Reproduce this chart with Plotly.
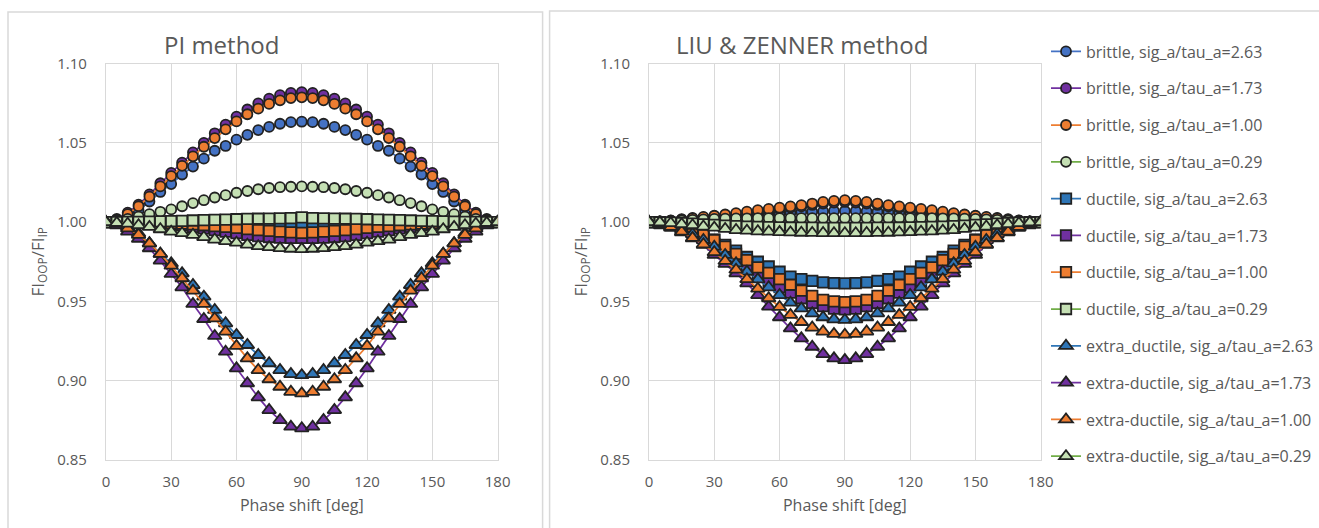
import plotly.graph_objects as go

phase = [0, 5, 10, 15, 20, 25, 30, 35, 40, 45, 50, 55, 60, 65, 70, 75, 80, 85, 90,
         95, 100, 105, 110, 115, 120, 125, 130, 135, 140, 145, 150, 155, 160, 165, 170, 175, 180]

series_names = [
    "brittle, sig_a/tau_a=2.63", "brittle, sig_a/tau_a=1.73", "brittle, sig_a/tau_a=1.00", "brittle, sig_a/tau_a=0.29",
    "ductile, sig_a/tau_a=2.63", "ductile, sig_a/tau_a=1.73", "ductile, sig_a/tau_a=1.00", "ductile, sig_a/tau_a=0.29",
    "extra_ductile, sig_a/tau_a=2.63", "extra-ductile, sig_a/tau_a=1.73", "extra-ductile, sig_a/tau_a=1.00",
    "extra-ductile, sig_a/tau_a=0.29",
]

# ---------------- PI method ----------------
pi_brittle_263 = [1.000,1.001,1.0035,1.0075,1.013,1.019,1.024,1.030,1.035,1.040,1.045,1.048,1.052,1.055,1.058,1.060,1.062,1.063,1.0633,
                  1.063,1.062,1.060,1.058,1.055,1.052,1.048,1.045,1.040,1.035,1.030,1.024,1.019,1.013,1.0075,1.0035,1.001,1.000]
pi_brittle_173 = [1.000,1.002,1.006,1.011,1.0175,1.0245,1.031,1.0375,1.044,1.050,1.056,1.0615,1.0665,1.071,1.0748,1.0778,1.080,1.0815,1.082,
                  1.0815,1.080,1.0778,1.0748,1.071,1.0665,1.0615,1.056,1.050,1.044,1.0375,1.031,1.0245,1.0175,1.011,1.006,1.002,1.000]
pi_brittle_100 = [1.000,1.0015,1.005,1.010,1.016,1.0225,1.029,1.0355,1.0415,1.0475,1.053,1.0585,1.0635,1.068,1.0715,1.0745,1.0768,1.0782,1.0787,
                  1.0782,1.0768,1.0745,1.0715,1.068,1.0635,1.0585,1.053,1.0475,1.0415,1.0355,1.029,1.0225,1.016,1.010,1.005,1.0015,1.000]
pi_brittle_029 = [1.000,1.001,1.002,1.0035,1.005,1.0065,1.008,1.010,1.012,1.0138,1.0155,1.017,1.0185,1.0196,1.0207,1.0215,1.022,1.0223,1.0225,
                  1.0223,1.022,1.0215,1.0207,1.0196,1.0185,1.017,1.0155,1.0138,1.012,1.010,1.008,1.0065,1.005,1.0035,1.002,1.001,1.000]
pi_ductile_263 = [1.000,1.000,1.000,0.9999,0.9998,0.9997,0.9996,0.9995,0.9993,0.999,0.9988,0.9986,0.9984,0.9982,0.9981,0.998,0.998,0.998,0.998,
                  0.998,0.998,0.998,0.9981,0.9982,0.9984,0.9986,0.9988,0.999,0.9993,0.9995,0.9996,0.9997,0.9998,0.9999,1.000,1.000,1.000]
pi_ductile_173 = [1.000,1.000,0.9998,0.9996,0.9994,0.999,0.9985,0.998,0.997,0.996,0.995,0.994,0.993,0.992,0.9912,0.9906,0.9902,0.990,0.990,
                  0.990,0.9902,0.9906,0.9912,0.992,0.993,0.994,0.995,0.996,0.997,0.998,0.9985,0.999,0.9994,0.9996,0.9998,1.000,1.000]
pi_ductile_100 = [1.000,1.000,1.000,0.9999,0.9998,0.9996,0.9993,0.999,0.9986,0.998,0.9975,0.997,0.9963,0.9956,0.995,0.9945,0.994,0.9935,0.9932,
                  0.9935,0.994,0.9945,0.995,0.9956,0.9963,0.997,0.9975,0.998,0.9986,0.999,0.9993,0.9996,0.9998,0.9999,1.000,1.000,1.000]
pi_ductile_029 = [1.000,1.000,1.0001,1.0002,1.0003,1.0004,1.0006,1.0008,1.001,1.0012,1.0014,1.0016,1.0018,1.002,1.0021,1.0022,1.0023,1.0025,1.003,
                  1.0025,1.0023,1.0022,1.0021,1.002,1.0018,1.0016,1.0014,1.0012,1.001,1.0008,1.0006,1.0004,1.0003,1.0002,1.0001,1.000,1.000]
pi_extra_263 = [1.000,0.999,0.997,0.993,0.9866,0.980,0.974,0.9677,0.9603,0.953,0.9446,0.9362,0.9288,0.9225,0.9162,0.911,0.9067,0.9042,0.9035,
                0.9042,0.9067,0.911,0.9162,0.9225,0.9288,0.9362,0.9446,0.953,0.9603,0.9677,0.974,0.980,0.9866,0.993,0.997,0.999,1.000]
pi_extra_173 = [1.000,0.998,0.994,0.9895,0.9835,0.9757,0.9673,0.9589,0.9484,0.9389,0.9282,0.9183,0.9078,0.8984,0.8895,0.8815,0.8752,0.871,0.870,
                0.871,0.8752,0.8815,0.8895,0.8984,0.9078,0.9183,0.9282,0.9389,0.9484,0.9589,0.9673,0.9757,0.9835,0.9895,0.994,0.998,1.000]
pi_extra_100 = [1.000,0.999,0.996,0.992,0.9866,0.980,0.9725,0.9646,0.9568,0.9484,0.9393,0.9309,0.9219,0.9141,0.9067,0.9009,0.8962,0.893,0.892,
                0.893,0.8962,0.9009,0.9067,0.9141,0.9219,0.9309,0.9393,0.9484,0.9568,0.9646,0.9725,0.980,0.9866,0.992,0.996,0.999,1.000]
pi_extra_029 = [1.000,0.9995,0.999,0.998,0.997,0.9955,0.994,0.993,0.992,0.9905,0.989,0.988,0.987,0.9858,0.9848,0.9842,0.9836,0.9832,0.983,
                0.9832,0.9836,0.9842,0.9848,0.9858,0.987,0.988,0.989,0.9905,0.992,0.993,0.994,0.9955,0.997,0.998,0.999,0.9995,1.000]

# ---------------- LIU & ZENNER method ----------------
lz_brittle_263 = [1.000,1.0002,1.0005,1.001,1.0015,1.002,1.0025,1.003,1.0035,1.004,1.0045,1.005,1.0055,1.006,1.0063,1.0066,1.0068,1.007,1.007,
                  1.007,1.0068,1.0066,1.0063,1.006,1.0055,1.005,1.0045,1.004,1.0035,1.003,1.0025,1.002,1.0015,1.001,1.0005,1.0002,1.000]
lz_brittle_173 = [1.000,1.0004,1.0009,1.0016,1.0023,1.003,1.0037,1.0044,1.0052,1.006,1.0068,1.0076,1.0084,1.0092,1.0099,1.0108,1.0117,1.0123,1.0127,
                  1.0123,1.0117,1.0108,1.0099,1.0092,1.0084,1.0076,1.0068,1.006,1.0052,1.0044,1.0037,1.003,1.0023,1.0016,1.0009,1.0004,1.000]
lz_brittle_100 = [1.000,1.0005,1.001,1.0018,1.0026,1.0033,1.004,1.0048,1.0057,1.0066,1.0075,1.0083,1.0091,1.0099,1.0107,1.0117,1.0127,1.0134,1.0138,
                  1.0134,1.0127,1.0117,1.0107,1.0099,1.0091,1.0083,1.0075,1.0066,1.0057,1.0048,1.004,1.0033,1.0026,1.0018,1.001,1.0005,1.000]
lz_brittle_029 = [1.000,1.0003,1.0007,1.001,1.0014,1.0017,1.002,1.0022,1.0023,1.0024,1.0025,1.0025,1.0025,1.0025,1.0025,1.0025,1.0025,1.0025,1.0025,
                  1.0025,1.0025,1.0025,1.0025,1.0025,1.0025,1.0025,1.0025,1.0024,1.0023,1.0022,1.002,1.0017,1.0014,1.001,1.0007,1.0003,1.000]
lz_ductile_263 = [1.000,0.9995,0.9985,0.997,0.995,0.992,0.989,0.9856,0.982,0.978,0.975,0.972,0.9687,0.9656,0.964,0.963,0.962,0.9615,0.9614,
                  0.9615,0.962,0.963,0.964,0.9656,0.9687,0.972,0.975,0.978,0.982,0.9856,0.989,0.992,0.995,0.997,0.9985,0.9995,1.000]
lz_ductile_173 = [1.000,0.9993,0.998,0.996,0.9935,0.990,0.986,0.9815,0.977,0.972,0.9675,0.963,0.959,0.9555,0.952,0.949,0.947,0.9455,0.945,
                  0.9455,0.947,0.949,0.952,0.9555,0.959,0.963,0.9675,0.972,0.977,0.9815,0.986,0.990,0.9935,0.996,0.998,0.9993,1.000]
lz_ductile_100 = [1.000,0.9995,0.9985,0.997,0.995,0.992,0.9887,0.9845,0.980,0.976,0.9715,0.968,0.964,0.9605,0.9568,0.9535,0.951,0.950,0.9495,
                  0.950,0.951,0.9535,0.9568,0.9605,0.964,0.968,0.9715,0.976,0.980,0.9845,0.9887,0.992,0.995,0.997,0.9985,0.9995,1.000]
lz_ductile_029 = [1.000,0.9999,0.9997,0.9994,0.999,0.9986,0.9982,0.9978,0.9975,0.9972,0.997,0.9968,0.9967,0.9966,0.9965,0.9965,0.9964,0.9964,0.9964,
                  0.9964,0.9964,0.9965,0.9965,0.9966,0.9967,0.9968,0.997,0.9972,0.9975,0.9978,0.9982,0.9986,0.999,0.9994,0.9997,0.9999,1.000]
lz_extra_263 = [1.000,0.9995,0.998,0.9955,0.9925,0.9887,0.9845,0.9793,0.974,0.9687,0.9639,0.9589,0.954,0.9492,0.9456,0.9425,0.940,0.9387,0.9383,
                0.9387,0.940,0.9425,0.9456,0.9492,0.954,0.9589,0.9639,0.9687,0.974,0.9793,0.9845,0.9887,0.9925,0.9955,0.998,0.9995,1.000]
lz_extra_173 = [1.000,0.999,0.9965,0.9935,0.9898,0.9856,0.9793,0.9736,0.9677,0.9614,0.954,0.9467,0.940,0.933,0.9267,0.9214,0.9168,0.9141,0.913,
                0.9141,0.9168,0.9214,0.9267,0.933,0.940,0.9467,0.954,0.9614,0.9677,0.9736,0.9793,0.9856,0.9898,0.9935,0.9965,0.999,1.000]
lz_extra_100 = [1.000,0.999,0.997,0.994,0.990,0.986,0.981,0.9755,0.970,0.964,0.958,0.952,0.9465,0.9415,0.937,0.9335,0.931,0.9295,0.929,
                0.9295,0.931,0.9335,0.937,0.9415,0.9465,0.952,0.958,0.964,0.970,0.9755,0.981,0.986,0.990,0.994,0.997,0.999,1.000]
lz_extra_029 = [1.000,0.9998,0.9993,0.9987,0.998,0.9972,0.9965,0.9957,0.995,0.9946,0.9942,0.994,0.9937,0.9935,0.9933,0.9932,0.9931,0.993,0.993,
                0.993,0.9931,0.9932,0.9933,0.9935,0.9937,0.994,0.9942,0.9946,0.995,0.9957,0.9965,0.9972,0.998,0.9987,0.9993,0.9998,1.000]

pi_series = [pi_brittle_263, pi_brittle_173, pi_brittle_100, pi_brittle_029,
             pi_ductile_263, pi_ductile_173, pi_ductile_100, pi_ductile_029,
             pi_extra_263, pi_extra_173, pi_extra_100, pi_extra_029]
lz_series = [lz_brittle_263, lz_brittle_173, lz_brittle_100, lz_brittle_029,
             lz_ductile_263, lz_ductile_173, lz_ductile_100, lz_ductile_029,
             lz_extra_263, lz_extra_173, lz_extra_100, lz_extra_029]

x_ticks = [0, 30, 60, 90, 120, 150, 180]
y_ticks = [0.85, 0.90, 0.95, 1.00, 1.05, 1.10]

# ---------------- styles ----------------
BLUE1 = "#4472C4"
BLUE2 = "#2E75B6"
PURPLE = "#7030A0"
ORANGE = "#ED7D31"
GREEN = "#70AD47"
LGREEN = "#C5E0B4"
EDGE = "#222222"

styles = [
    ("circle", BLUE1, BLUE1), ("circle", PURPLE, PURPLE), ("circle", ORANGE, ORANGE), ("circle", GREEN, LGREEN),
    ("square", BLUE2, BLUE2), ("square", PURPLE, PURPLE), ("square", ORANGE, ORANGE), ("square", GREEN, LGREEN),
    ("triangle-up", BLUE2, BLUE2), ("triangle-up", PURPLE, PURPLE), ("triangle-up", ORANGE, ORANGE), ("triangle-up", GREEN, LGREEN),
]
sizes = {"circle": 10, "square": 10.5, "triangle-up": 12}

W, H = 1319, 528
FONT = "Open Sans"
GREY = "#595959"

fig = go.Figure()

for panel, (data, xa, ya) in enumerate([(pi_series, "x", "y"), (lz_series, "x2", "y2")]):
    for i, (name, vals) in enumerate(zip(series_names, data)):
        sym, lc, fc = styles[i]
        fig.add_trace(go.Scatter(
            x=phase, y=vals, name=name, xaxis=xa, yaxis=ya,
            mode="lines+markers",
            line=dict(color=lc, width=1.75),
            marker=dict(symbol=sym, size=sizes[sym], color=fc,
                        line=dict(color=EDGE, width=1.8)),
            showlegend=(panel == 1), legendgroup=name,
        ))


def px_x(p):
    return p / W


def px_y(p):
    return 1 - p / H


ydom = [px_y(460), px_y(63.5)]
axis_common = dict(
    showgrid=True, gridcolor="#D9D9D9", gridwidth=1, zeroline=False,
    showline=True, linecolor="#D9D9D9", linewidth=1, mirror=True,
    tickfont=dict(family=FONT, size=15, color=GREY),
    ticks="outside", tickcolor="rgba(0,0,0,0)",
)
xcommon = dict(axis_common, range=[0, 180], tickvals=x_ticks, ticklen=8,
               title=dict(text="Phase shift [deg]", font=dict(family=FONT, size=16, color=GREY), standoff=9))
ycommon = dict(axis_common, range=[0.85, 1.10], tickvals=y_ticks, tickformat=".2f", ticklen=15,
               title=dict(text="FI<sub>OOP</sub>/FI<sub>IP</sub>", font=dict(family=FONT, size=17, color=GREY), standoff=8))

fig.update_layout(
    width=W, height=H,
    margin=dict(l=0, r=0, t=0, b=0),
    paper_bgcolor="white", plot_bgcolor="white",
    font=dict(family=FONT, color=GREY),
    xaxis=dict(xcommon, domain=[px_x(106), px_x(498)], anchor="y", automargin=False),
    yaxis=dict(ycommon, domain=ydom, anchor="x", automargin=False),
    xaxis2=dict(xcommon, domain=[px_x(649.5), px_x(1041.5)], anchor="y2", automargin=False),
    yaxis2=dict(ycommon, domain=ydom, anchor="x2", automargin=False),
    legend=dict(
        x=px_x(1047), y=px_y(34.5), xanchor="left", yanchor="top",
        font=dict(family=FONT, size=16, color=GREY),
        bgcolor="rgba(0,0,0,0)", borderwidth=0,
        tracegroupgap=13, itemclick=False,
    ),
    annotations=[
        dict(text="PI method", x=px_x(222), y=px_y(44), xref="paper", yref="paper",
             showarrow=False, font=dict(family=FONT, size=24, color=GREY), xanchor="center", yanchor="middle"),
        dict(text="LIU &amp; ZENNER method", x=px_x(803), y=px_y(44), xref="paper", yref="paper",
             showarrow=False, font=dict(family=FONT, size=24, color=GREY), xanchor="center", yanchor="middle"),
    ],
    shapes=[
        dict(type="rect", xref="paper", yref="paper", x0=px_x(8), x1=px_x(543), y0=-0.05, y1=px_y(12),
             line=dict(color="#D9D9D9", width=1.5), fillcolor="rgba(0,0,0,0)", layer="below"),
        dict(type="rect", xref="paper", yref="paper", x0=px_x(550), x1=1.05, y0=-0.05, y1=px_y(11),
             line=dict(color="#D9D9D9", width=1.5), fillcolor="rgba(0,0,0,0)", layer="below"),
    ],
)

fig.write_html("out.html")
